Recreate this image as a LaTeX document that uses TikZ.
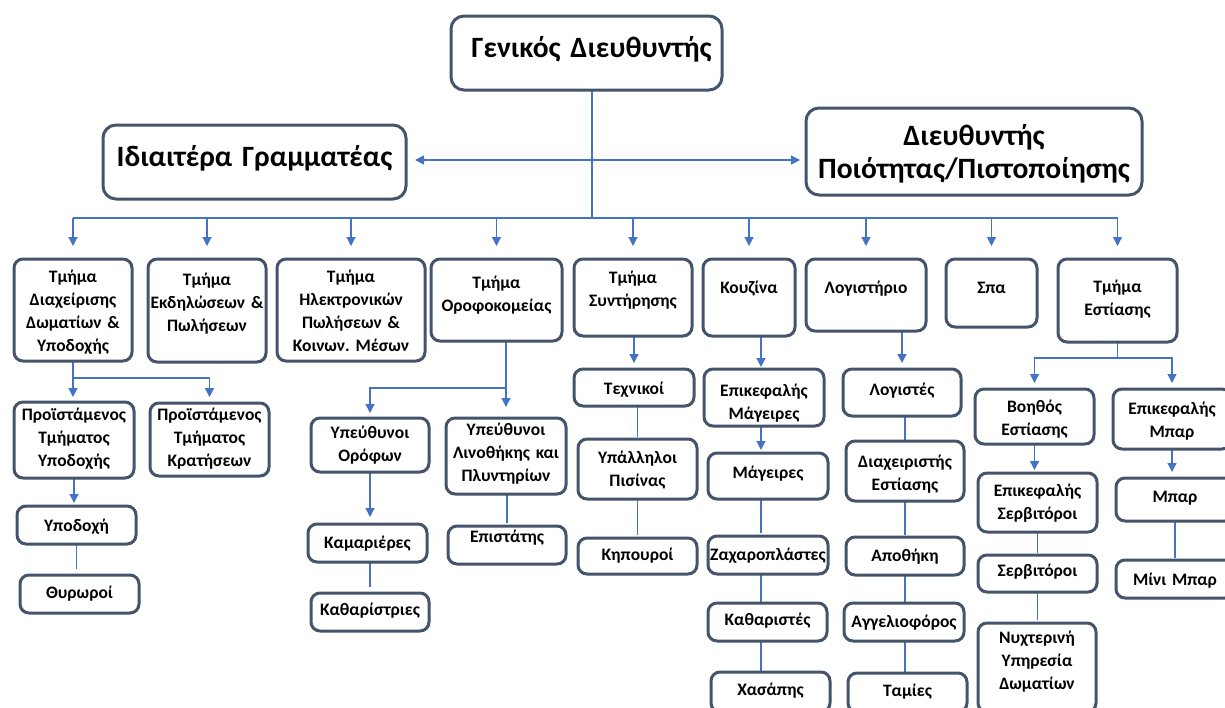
\documentclass[tikz,border=0pt]{standalone}
\usepackage{fontspec}
\setmainfont{Carlito}
\usetikzlibrary{arrows.meta,backgrounds}
\definecolor{OrgSlate}{HTML}{44546A}
\definecolor{OrgBlue}{HTML}{4472C4}
\frenchspacing

\tikzset{
  orgbox/.style n args={3}{draw=OrgSlate, line width=3pt, rounded corners=9pt, fill=white,
    anchor=north, inner sep=0pt, outer sep=0pt, align=center,
    text width=#1pt, text height=#2pt, text depth=#3pt,
    font=\bfseries\fontsize{17.5}{23}\selectfont},
  bigbox/.style={rounded corners=13pt, font=\bfseries\fontsize{29.5}{33}\selectfont},
  link/.style={draw=OrgBlue, line width=1.2pt},
  arr/.style={link, -{Triangle[length=9pt,width=9pt]}},
  biarr/.style={link, {Triangle[length=9pt,width=9pt]}-{Triangle[length=9pt,width=9pt]}},
}

\begin{document}
\begin{tikzpicture}[x=1pt, y=-1pt]
  \useasboundingbox (0,0) rectangle (1225,707);
  \clip (0,0) rectangle (1225,707);

  % management
  \node[orgbox={271}{41}{33}, bigbox] (gm) at (586.5,16) {\hspace*{10pt}Γενικός Διευθυντής};
  \node[orgbox={303}{41.5}{32.5}, bigbox] (sec) at (254.5,125) {Ιδιαιτέρα Γραμματέας};
  \node[orgbox={336}{37.5}{49.5}, bigbox] (qual) at (974,108) {Διευθυντής\\Ποιότητας/Πιστοποίησης};

  % departments
  \node[orgbox={118}{23.5}{78.5}] (rooms) at (73,259) {Τμήμα\\Διαχείρισης\\Δωματίων \&\\Υποδοχής};
  \node[orgbox={118}{26.5}{76.5}] (events) at (207,259) {Τμήμα\\Εκδηλώσεων \&\\Πωλήσεων};
  \node[orgbox={148}{23.5}{78.5}] (online) at (351,259) {Τμήμα\\Ηλεκτρονικών\\Πωλήσεων \&\\Κοινων. Μέσων};
  \node[orgbox={131}{29.5}{52.5}] (hk) at (496.5,259) {Τμήμα\\Οροφοκομείας};
  \node[orgbox={118}{24.5}{52.5}] (maint) at (633,259) {Τμήμα\\Συντήρησης};
  \node[orgbox={92}{34.5}{42.5}] (kitchen) at (749,259) {Κουζίνα};
  \node[orgbox={120}{34.5}{37.5}] (acc) at (866,259) {Λογιστήριο};
  \node[orgbox={91}{34.5}{33.5}] (spa) at (991.5,259) {Σπα};
  \node[orgbox={119}{33.5}{49.5}] (dining) at (1117.5,259) {Τμήμα\\Εστίασης};

  % rooms & reception
  \node[orgbox={120}{18.5}{57.5}] (rhead) at (74,402) {Προϊστάμενος\\Τμήματος\\Υποδοχής};
  \node[orgbox={119}{17.5}{55.5}] (rres) at (209.5,403) {Προϊστάμενος\\Τμήματος\\Κρατήσεων};
  \node[orgbox={119}{25.5}{12.5}] (recep) at (76.5,506) {Υποδοχή};
  \node[orgbox={119}{23.5}{14.5}] (porter) at (79.5,575) {Θυρωροί};

  % housekeeping
  \node[orgbox={118}{20.5}{33.5}] (floors) at (370,418) {Υπεύθυνοι\\Ορόφων};
  \node[orgbox={120}{17.5}{58.5}] (linen) at (506,418) {Υπεύθυνοι\\Λινοθήκης και\\Πλυντηρίων};
  \node[orgbox={119}{24.5}{13.5}] (maids) at (367.5,524) {Καμαριέρες};
  \node[orgbox={118}{22.5}{15.5}] (cleaners) at (370,593) {Καθαρίστριες};
  \node[orgbox={118}{16.5}{21.5}] (super) at (507,526) {Επιστάτης};

  % maintenance
  \node[orgbox={120}{25.5}{11.5}] (tech) at (634,369) {Τεχνικοί};
  \node[orgbox={119}{24.5}{35.5}] (pool) at (637.5,439) {Υπάλληλοι\\Πισίνας};
  \node[orgbox={119}{22.5}{13.5}] (garden) at (637.5,538) {Κηπουροί};

  % kitchen
  \node[orgbox={120}{27.5}{29.5}] (chefhead) at (764,369) {Επικεφαλής\\Μάγειρες};
  \node[orgbox={120}{25.5}{20.5}] (cooks) at (768,453) {Μάγειρες};
  \node[orgbox={120}{24.5}{13.5}] (pastry) at (768,536) {Ζαχαροπλάστες};
  \node[orgbox={119}{22.5}{15.5}] (kcleaners) at (767.5,603) {Καθαριστές};
  \node[orgbox={119}{23.5}{16.5}] (butcher) at (770.5,672) {Χασάπης};

  % accounting
  \node[orgbox={118}{26.5}{20.5}] (accts) at (902,369) {Λογιστές};
  \node[orgbox={118}{26.5}{33.5}] (fbm) at (905,441) {Διαχειριστής\\Εστίασης};
  \node[orgbox={118}{24.5}{13.5}] (store) at (905,537) {Αποθήκη};
  \node[orgbox={120}{24.5}{13.5}] (courier) at (904,603) {Αγγελιοφόρος};
  \node[orgbox={119}{23.5}{15.5}] (cashiers) at (907.5,673) {Ταμίες};

  % dining
  \node[orgbox={119}{23.5}{31.5}] (asst) at (1034.5,389) {Βοηθός\\Εστίασης};
  \node[orgbox={118}{25.5}{34.5}] (barhead) at (1172,389) {Επικεφαλής\\Μπαρ};
  \node[orgbox={119}{23.5}{35.5}] (waithead) at (1037.5,473) {Επικεφαλής\\Σερβιτόροι};
  \node[orgbox={119}{21.5}{15.5}] (waiters) at (1037.5,555) {Σερβιτόροι};
  \node[orgbox={118}{20.5}{68.5}] (roomsvc) at (1037,623) {Νυχτερινή\\Υπηρεσία\\Δωματίων};
  \node[orgbox={118}{24.5}{18.5}] (bar) at (1175,478) {Μπαρ};
  \node[orgbox={118}{25.5}{12.5}] (minibar) at (1175,560) {Μίνι Μπαρ};

  \coordinate (bus) at (592,218);
  \coordinate (side) at (592,160);
  \coordinate (rsplit) at (73,378);
  \coordinate (hksplit) at (507,388);
  \coordinate (dsplit) at (1117.5,358);
  \coordinate (kcol) at (761,0);

  \begin{scope}[on background layer]
    \draw[link] (gm.south -| bus) -- (bus);
    \draw[biarr, shorten <=9pt, shorten >=6pt] (side -| sec.east) -- (side -| qual.west);
    \draw[link] (rooms.north |- bus) -- (dining.north |- bus);
    \foreach \d in {rooms,events,online,hk,maint,kitchen,acc,spa,dining}
      \draw[arr, shorten >=13pt] (\d.north |- bus) -- (\d.north);

    \draw[arr, shorten >=5pt] (rooms.south) -- (rooms.south |- rhead.north);
    \draw[arr, shorten >=6pt] (rooms.south |- rsplit) -| (rres.north);
    \draw[arr, shorten >=3pt] (rhead.south) -- (rhead.south |- recep.north);
    \draw[link, shorten >=6pt] (recep.south) -- (recep.south |- porter.north);

    \draw[arr, shorten >=11pt] (linen.north |- hk.south) -- (linen.north);
    \draw[arr, shorten >=5pt] (linen.north |- hksplit) -| (floors.north);
    \draw[arr, shorten >=7pt] (floors.south) -- (floors.south |- maids.north);
    \draw[link, shorten >=6pt] (cleaners.north |- maids.south) -- (cleaners.north);
    \draw[link, shorten >=3pt] (super.north |- linen.south) -- (super.north);

    \draw[arr, shorten >=6pt] (tech.north |- maint.south) -- (tech.north);
    \draw[link, shorten >=2pt] (pool.north |- tech.south) -- (pool.north);
    \draw[link, shorten >=3pt] (pool.south) -- (garden.north);

    \draw[arr, shorten >=2pt] (kitchen.south -| kcol) -- (chefhead.north -| kcol);
    \draw[arr, shorten >=3pt] (chefhead.south -| kcol) -- (cooks.north -| kcol);
    \draw[link, shorten >=3pt] (cooks.south -| kcol) -- (pastry.north -| kcol);
    \draw[link] (pastry.south -| kcol) -- (kcleaners.north -| kcol);
    \draw[link] (kcleaners.south -| kcol) -- (butcher.north -| kcol);

    \draw[arr, shorten >=6pt] (accts.north |- acc.south) -- (accts.north);
    \draw[link] (fbm.north |- accts.south) -- (fbm.north);
    \draw[link, shorten >=2pt] (fbm.south) -- (store.north);
    \draw[link] (store.south) -- (store.south |- courier.north);
    \draw[link] (store.south |- courier.south) -- (store.south |- cashiers.north);

    \draw[arr, shorten >=6pt] (dining.south) -- (dsplit) -| (asst.north);
    \draw[arr, shorten >=6pt] (dsplit) -| (barhead.north);
    \draw[arr, shorten >=3pt] (asst.south) -- (asst.south |- waithead.north);
    \draw[link, shorten >=2pt] (waithead.south) -- (waiters.north);
    \draw[link, shorten >=3pt] (waiters.south) -- (waiters.south |- roomsvc.north);
    \draw[arr, shorten >=6pt] (barhead.south) -- (barhead.south |- bar.north);
    \draw[link, shorten >=2pt] (bar.south) -- (minibar.north);
  \end{scope}
\end{tikzpicture}
\end{document}
